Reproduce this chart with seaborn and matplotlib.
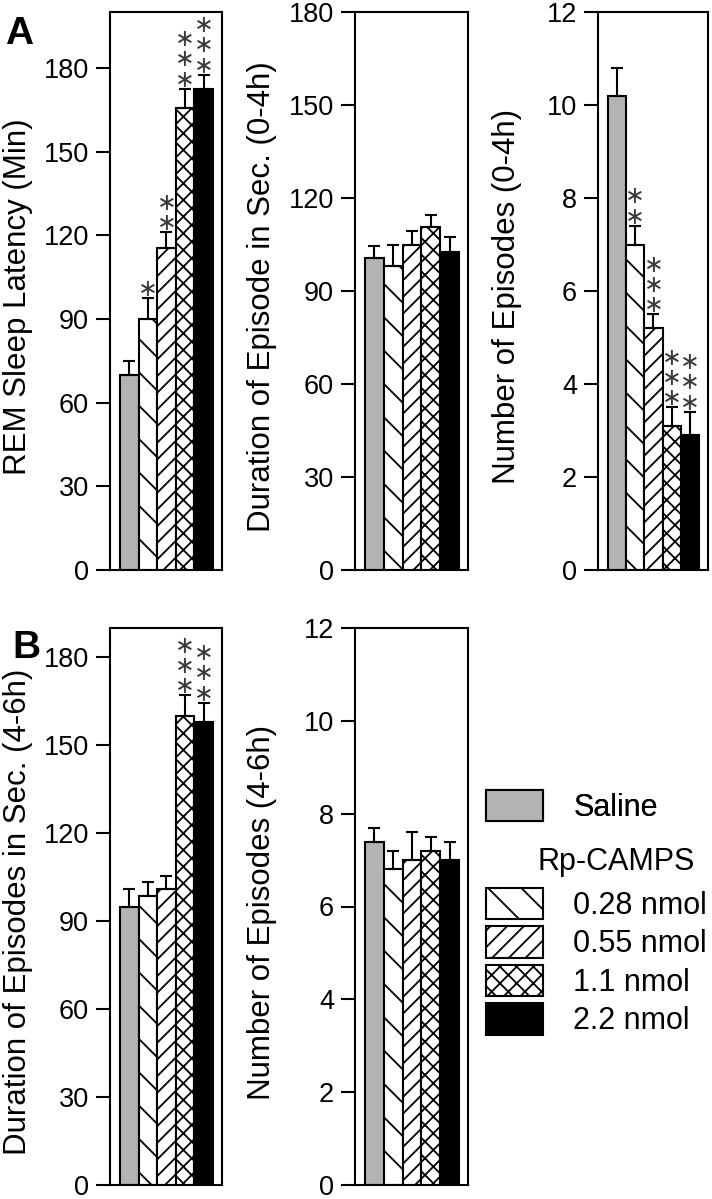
import matplotlib
matplotlib.use("Agg")
import matplotlib.pyplot as plt
from matplotlib.patches import Patch
import seaborn as sns
import pandas as pd

# groups / styling
groups = ["Saline", "0.28 nmol", "0.55 nmol", "1.1 nmol", "2.2 nmol"]
colors = ["#b3b3b3", "white", "white", "white", "black"]
hatches = ["", "\\", "//", "xx", ""]

# A, left: REM sleep latency
rem_latency = [70, 90, 115.5, 165.5, 172.5]
rem_latency_err = [5, 7.5, 5.5, 7, 5]
rem_latency_stars = [0, 1, 2, 3, 3]

# A, middle: duration of episode 0-4h
dur_0_4 = [100.5, 98, 105, 110.5, 102.5]
dur_0_4_err = [4, 7, 4.5, 4, 5]
dur_0_4_stars = [0, 0, 0, 0, 0]

# A, right: number of episodes 0-4h
num_0_4 = [10.2, 7.0, 5.2, 3.1, 2.9]
num_0_4_err = [0.6, 0.4, 0.3, 0.4, 0.5]
num_0_4_stars = [0, 2, 3, 3, 3]

# B, left: duration of episodes 4-6h
dur_4_6 = [95, 98.5, 101, 160, 158]
dur_4_6_err = [6, 5, 4.5, 7, 6.5]
dur_4_6_stars = [0, 0, 0, 3, 3]

# B, middle: number of episodes 4-6h
num_4_6 = [7.4, 6.8, 7.0, 7.2, 7.0]
num_4_6_err = [0.3, 0.4, 0.6, 0.3, 0.4]
num_4_6_stars = [0, 0, 0, 0, 0]

sns.set_style("ticks")
plt.rcParams["font.family"] = ["Liberation Sans", "DejaVu Sans"]
plt.rcParams["hatch.linewidth"] = 1.3
for key in ["text.color", "axes.labelcolor", "xtick.color", "ytick.color"]:
    plt.rcParams[key] = "black"

W, H = 712, 1199
fig = plt.figure(figsize=(W / 100, H / 100), dpi=100)


def rect(left, top, right, bottom):
    return [left / W, 1 - bottom / H, (right - left) / W, (bottom - top) / H]


def bar_panel(r, values, errs, stars, ylabel, ymax, ticks):
    ax = fig.add_axes(r)
    df = pd.DataFrame({"group": groups, "value": values})
    sns.barplot(data=df, x="group", y="value", hue="group", order=groups,
                hue_order=groups, palette=colors, width=1.0, edgecolor="black",
                linewidth=1.5, errorbar=None, legend=False, ax=ax)
    for patch, h in zip(ax.patches, hatches):
        patch.set_hatch(h)
    xs = list(range(len(groups)))
    ax.errorbar(xs, values, yerr=[[0] * len(errs), errs], fmt="none",
                ecolor="black", elinewidth=1.5, capsize=4.5, capthick=1.5,
                zorder=1)
    for x, v, e, n in zip(xs, values, errs, stars):
        if n == 0:
            continue
        ax.annotate("\n".join(["\u2217"] * n), xy=(x, v + e), xytext=(0, -2),
                    textcoords="offset points", ha="center", va="bottom",
                    fontsize=17, linespacing=0.8, color="#3a3a3a",
                    family=["DejaVu Sans"])
    ax.set_xlim(-1.03, 4.98)
    ax.set_ylim(0, ymax)
    ax.set_yticks(ticks)
    ax.set_xticks([])
    ax.set_xlabel("")
    ax.set_ylabel(ylabel, fontsize=22.5)
    ax.yaxis.set_label_coords(-0.69, 0.49)
    ax.tick_params(axis="y", labelsize=19.5, length=10, width=1.5, pad=5,
                   color="black", labelcolor="black")
    for s in ax.spines.values():
        s.set_linewidth(1.5)
        s.set_color("black")
    return ax


bar_panel(rect(110, 12, 222, 570), rem_latency, rem_latency_err,
          rem_latency_stars, "REM Sleep Latency (Min)", 200,
          [0, 30, 60, 90, 120, 150, 180])
bar_panel(rect(355, 12, 468, 570), dur_0_4, dur_0_4_err, dur_0_4_stars,
          "Duration of Episode in Sec. (0-4h)", 180,
          [0, 30, 60, 90, 120, 150, 180])
bar_panel(rect(598, 12, 708, 570), num_0_4, num_0_4_err, num_0_4_stars,
          "Number of Episodes (0-4h)", 12, [0, 2, 4, 6, 8, 10, 12])
bar_panel(rect(110, 628, 222, 1185), dur_4_6, dur_4_6_err, dur_4_6_stars,
          "Duration of Episodes in Sec. (4-6h)", 190,
          [0, 30, 60, 90, 120, 150, 180])
bar_panel(rect(355, 628, 468, 1185), num_4_6, num_4_6_err, num_4_6_stars,
          "Number of Episodes (4-6h)", 12, [0, 2, 4, 6, 8, 10, 12])

fig.text(5 / W, 1 - 44 / H, "A", fontsize=28, fontweight="bold", va="baseline")
fig.text(12 / W, 1 - 658 / H, "B", fontsize=28, fontweight="bold", va="baseline")

# legend
handles = [Patch(facecolor=c, edgecolor="black", hatch=h, linewidth=1.5)
           for c, h in zip(colors, hatches)]
leg_kw = dict(frameon=False, fontsize=22, handlelength=1.86, handleheight=1.2,
              handletextpad=1.0, borderpad=0, borderaxespad=0, loc="upper left")
leg1 = fig.legend(handles[:1], groups[:1], bbox_to_anchor=(486 / W, 1 - 790 / H),
                  **leg_kw)
fig.add_artist(leg1)
fig.legend(handles[1:], groups[1:], bbox_to_anchor=(486 / W, 1 - 888 / H),
           labelspacing=0.18, **leg_kw)
fig.text(538 / W, 1 - 862 / H, "Rp-CAMPS", fontsize=22, va="center")

fig.savefig("out.png", dpi=100)
